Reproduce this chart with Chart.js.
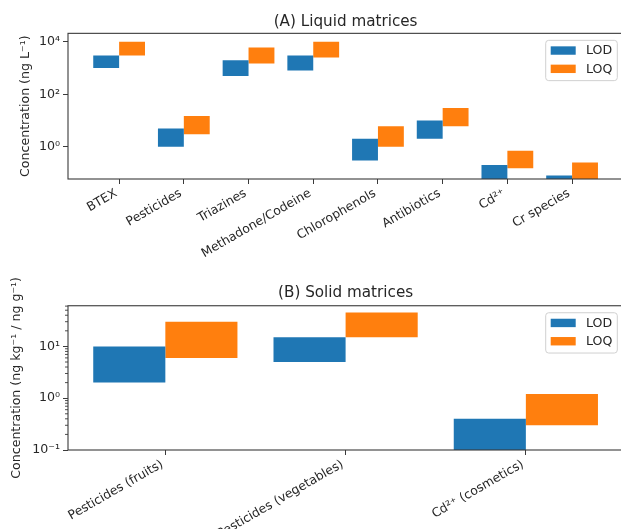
<!DOCTYPE html>
<html><head><meta charset="utf-8">
<script src="https://cdn.jsdelivr.net/npm/chart.js@4"></script>
<style>
html,body{margin:0;padding:0;background:#fff;overflow:hidden;width:621px;height:529px;}
#wrap{position:relative;width:621px;height:529px;overflow:hidden;background:#fff;}
canvas{position:absolute;left:0;}
</style></head><body>
<div id="wrap">
<canvas id="c1" width="626" height="265" style="top:0;width:626px;height:265px"></canvas>
<canvas id="c2" width="626" height="264" style="top:265px;width:626px;height:264px"></canvas>
</div>
<script>
// ---- Data: (A) Liquid matrices, ng L^-1 ----
const liquidCategories = ['BTEX','Pesticides','Triazines','Methadone/Codeine','Chlorophenols','Antibiotics','Cd²⁺','Cr species'];
const liquidLodLow  = [1000, 1,   500,  800,  0.3, 2,  0.05, 0.02];
const liquidLodHigh = [3000, 5,   2000, 3000, 2,   10, 0.2,  0.08];
const liquidLoqLow  = [3000, 3,   1500, 2500, 1,   6,  0.15, 0.05];
const liquidLoqHigh = [10000,15,  6000, 10000,6,   30, 0.7,  0.25];
const liquidYTicks  = [1, 100, 10000];

// ---- Data: (B) Solid matrices, ng kg^-1 / ng g^-1 ----
const solidCategories = ['Pesticides (fruits)','Pesticides (vegetables)','Cd²⁺ (cosmetics)'];
const solidLodLow  = [2,  5,  0.1];
const solidLodHigh = [10, 15, 0.4];
const solidLoqLow  = [6,  15, 0.3];
const solidLoqHigh = [30, 45, 1.2];
const solidYTicks  = [0.1, 1, 10];

const seriesLabels = ['LOD', 'LOQ'];
const BLUE = '#1f77b4', ORANGE = '#ff7f0e', INK = '#262626', SPINE = '#3a3a3a';
const FAM = "'DejaVu Sans', sans-serif";

function pow10Label(v) {
  const m = {'-':'⁻','0':'⁰','1':'¹','2':'²','3':'³','4':'⁴','5':'⁵','6':'⁶','7':'⁷','8':'⁸','9':'⁹'};
  const e = Math.round(Math.log10(v));
  return '10' + String(e).split('').map(c => m[c]).join('');
}

const framePlugin = {
  id: 'frame',
  afterDatasetsDraw(chart) {
    const a = chart.chartArea, ctx = chart.ctx;
    ctx.save();
    ctx.strokeStyle = SPINE; ctx.lineWidth = 1.1;
    ctx.strokeRect(a.left, a.top, a.right - a.left, a.bottom - a.top);
    const opts = chart.options.plugins.frame || {};
    if (opts.minor) {
      const ys = chart.scales.y;
      ctx.lineWidth = 0.9;
      for (let d = -1; d <= 1; d++) {
        for (let k = 2; k <= 9; k++) {
          const v = k * Math.pow(10, d);
          if (v <= ys.min || v >= ys.max) continue;
          const py = ys.getPixelForValue(v);
          ctx.beginPath(); ctx.moveTo(a.left - 3, py); ctx.lineTo(a.left, py); ctx.stroke();
        }
      }
    }
    ctx.restore();
  }
};

const boxLegend = {
  id: 'boxLegend',
  afterDraw(chart) {
    const a = chart.chartArea, ctx = chart.ctx;
    const w = 71.6, h = 40.3, r = 3;
    const x = a.right - 5.9 - w, y = a.top + 7;
    ctx.save();
    ctx.beginPath();
    ctx.moveTo(x + r, y); ctx.lineTo(x + w - r, y); ctx.quadraticCurveTo(x + w, y, x + w, y + r);
    ctx.lineTo(x + w, y + h - r); ctx.quadraticCurveTo(x + w, y + h, x + w - r, y + h);
    ctx.lineTo(x + r, y + h); ctx.quadraticCurveTo(x, y + h, x, y + h - r);
    ctx.lineTo(x, y + r); ctx.quadraticCurveTo(x, y, x + r, y);
    ctx.closePath();
    ctx.fillStyle = 'rgba(255,255,255,0.85)'; ctx.fill();
    ctx.strokeStyle = '#d0d0d0'; ctx.lineWidth = 1; ctx.stroke();
    ctx.font = '12.6px ' + FAM; ctx.textBaseline = 'middle'; ctx.textAlign = 'left';
    chart.data.datasets.forEach((ds, i) => {
      const py = y + 6 + i * 18.3;
      ctx.fillStyle = ds.backgroundColor;
      ctx.fillRect(x + 5, py, 25, 8.4);
      ctx.fillStyle = INK;
      ctx.fillText(ds.label, x + 40.3, py + 4.6);
    });
    ctx.restore();
  }
};

function makeChart(id, cfg) {
  const toData = (lo, hi) => cfg.categories.map((c, i) => ({x: i, y: [lo[i], hi[i]]}));
  return new Chart(document.getElementById(id), {
    type: 'bar',
    data: {
      datasets: [
        {label: seriesLabels[0], data: toData(cfg.lodLow, cfg.lodHigh), backgroundColor: BLUE, borderWidth: 0, clip: 0},
        {label: seriesLabels[1], data: toData(cfg.loqLow, cfg.loqHigh), backgroundColor: ORANGE, borderWidth: 0, clip: 0}
      ]
    },
    options: {
      responsive: false, animation: false, maintainAspectRatio: false,
      layout: {padding: {left: 0, right: 2.8, top: 0, bottom: 0}},
      datasets: {bar: {categoryPercentage: 0.8, barPercentage: 1.0, grouped: true}},
      plugins: {
        legend: {display: false},
        tooltip: {enabled: false},
        title: {display: true, text: cfg.title, fullSize: false, color: INK,
                font: {family: FAM, size: 15.2, weight: 'normal'},
                padding: {top: cfg.titlePad[0], bottom: cfg.titlePad[1]}},
        frame: {minor: cfg.minor}
      },
      scales: {
        x: {
          type: 'linear', min: cfg.xMin, max: cfg.xMax, offset: false,
          afterBuildTicks: s => { s.ticks = cfg.categories.map((c, i) => ({value: i})); },
          afterFit: s => { s.height = cfg.axisHeight; s.paddingLeft = 0; s.paddingRight = 0; },
          ticks: {callback: v => cfg.categories[v] ?? '', minRotation: 30, maxRotation: 30, autoSkip: false,
                  color: INK, font: {family: FAM, size: 12.4}, padding: 2, labelOffset: -3},
          grid: {drawOnChartArea: false, drawTicks: true, tickLength: 5, tickColor: SPINE, tickWidth: 1, offset: false},
          border: {display: false}
        },
        y: {
          type: 'logarithmic', min: cfg.yMin, max: cfg.yMax,
          afterBuildTicks: s => { s.ticks = cfg.yTicks.map(v => ({value: v})); },
          afterFit: s => { s.width = 68; s.paddingTop = 0; s.paddingBottom = 0; },
          ticks: {callback: v => pow10Label(v), autoSkip: false, color: INK, font: {family: FAM, size: 12.6}, padding: 3},
          grid: {drawOnChartArea: false, drawTicks: true, tickLength: 5, tickColor: SPINE, tickWidth: 1},
          border: {display: false},
          title: {display: true, text: cfg.yTitle, color: INK, font: {family: FAM, size: 12.6},
                  padding: {top: cfg.yTitlePad, bottom: 0}}
        }
      }
    },
    plugins: [framePlugin, boxLegend]
  });
}

makeChart('c1', {
  title: '(A) Liquid matrices', titlePad: [12.6, 2.5],
  yTitle: 'Concentration (ng L⁻¹)', yTitlePad: 18.4,
  categories: liquidCategories, lodLow: liquidLodLow, lodHigh: liquidLodHigh, loqLow: liquidLoqLow, loqHigh: liquidLoqHigh,
  xMin: -0.79, xMax: 7.79, yMin: 0.059, yMax: 21000, yTicks: liquidYTicks, axisHeight: 86, minor: false
});
makeChart('c2', {
  title: '(B) Solid matrices', titlePad: [18.6, 3.9],
  yTitle: 'Concentration (ng kg⁻¹ / ng g⁻¹)', yTitlePad: 9.4,
  categories: solidCategories, lodLow: solidLodLow, lodHigh: solidLodHigh, loqLow: solidLoqLow, loqHigh: solidLoqHigh,
  xMin: -0.54, xMax: 2.54, yMin: 0.1, yMax: 61, yTicks: solidYTicks, axisHeight: 79, minor: true
});
</script>
</body></html>
